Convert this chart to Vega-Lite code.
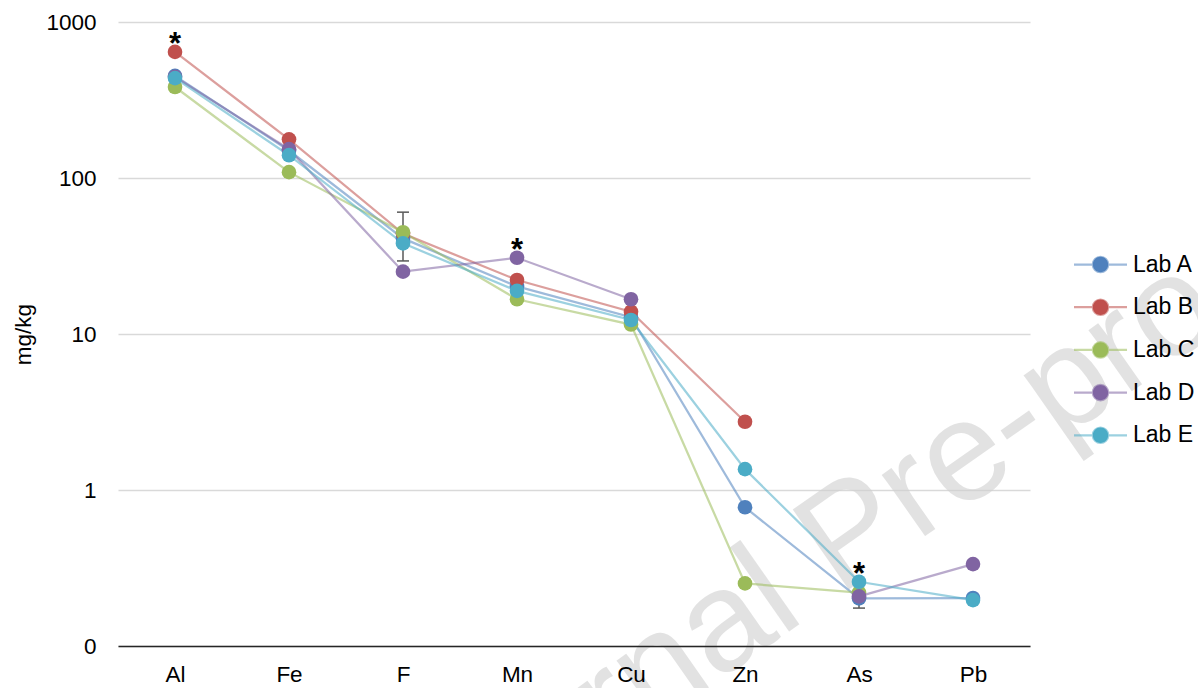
{
  "$schema": "https://vega.github.io/schema/vega-lite/v6.json",
  "width": 912,
  "height": 624,
  "autosize": {"type": "none"},
  "padding": {"left": 118, "top": 22, "right": 168, "bottom": 42},
  "background": "white",
  "config": {
    "font": "Liberation Sans",
    "view": {"stroke": null},
    "axis": {"labelColor": "#000000", "titleColor": "#000000", "labelFont": "Liberation Sans", "titleFont": "Liberation Sans"},
    "legend": {"labelFont": "Liberation Sans"}
  },
  "datasets": {
    "main": [
      {"el": "Al", "lab": "Lab A", "v": 451, "part": 1},
      {"el": "Fe", "lab": "Lab A", "v": 150, "part": 1},
      {"el": "F", "lab": "Lab A", "v": 41, "part": 1},
      {"el": "Mn", "lab": "Lab A", "v": 20.2, "part": 1},
      {"el": "Cu", "lab": "Lab A", "v": 12.8, "part": 1},
      {"el": "Zn", "lab": "Lab A", "v": 0.775, "part": 1},
      {"el": "As", "lab": "Lab A", "v": 0.202, "part": 1},
      {"el": "Pb", "lab": "Lab A", "v": 0.203, "part": 1},
      {"el": "Al", "lab": "Lab B", "v": 643, "part": 1, "note": "*"},
      {"el": "Fe", "lab": "Lab B", "v": 177, "part": 1},
      {"el": "F", "lab": "Lab B", "v": 44, "part": 1},
      {"el": "Mn", "lab": "Lab B", "v": 22.2, "part": 1},
      {"el": "Cu", "lab": "Lab B", "v": 13.9, "part": 1},
      {"el": "Zn", "lab": "Lab B", "v": 2.74, "part": 1},
      {"el": "Al", "lab": "Lab C", "v": 383, "part": 1},
      {"el": "Fe", "lab": "Lab C", "v": 109, "part": 1},
      {"el": "F", "lab": "Lab C", "v": 44.9, "part": 1},
      {"el": "Mn", "lab": "Lab C", "v": 16.7, "part": 1},
      {"el": "Cu", "lab": "Lab C", "v": 11.5, "part": 1},
      {"el": "Zn", "lab": "Lab C", "v": 0.252, "part": 1},
      {"el": "As", "lab": "Lab C", "v": 0.22, "part": 1},
      {"el": "Al", "lab": "Lab D", "v": 445, "part": 1},
      {"el": "Fe", "lab": "Lab D", "v": 153, "part": 1},
      {"el": "F", "lab": "Lab D", "v": 25.1, "part": 1},
      {"el": "Mn", "lab": "Lab D", "v": 30.8, "part": 1, "note": "*"},
      {"el": "Cu", "lab": "Lab D", "v": 16.7, "part": 1},
      {"el": "As", "lab": "Lab D", "v": 0.208, "part": 2},
      {"el": "Pb", "lab": "Lab D", "v": 0.335, "part": 2},
      {"el": "Al", "lab": "Lab E", "v": 437, "part": 1},
      {"el": "Fe", "lab": "Lab E", "v": 140, "part": 1},
      {"el": "F", "lab": "Lab E", "v": 38.1, "part": 1},
      {"el": "Mn", "lab": "Lab E", "v": 18.9, "part": 1},
      {"el": "Cu", "lab": "Lab E", "v": 12.3, "part": 1},
      {"el": "Zn", "lab": "Lab E", "v": 1.36, "part": 1},
      {"el": "As", "lab": "Lab E", "v": 0.258, "part": 1, "note": "*"},
      {"el": "Pb", "lab": "Lab E", "v": 0.197, "part": 1}
    ],
    "err": [
      {"el": "F", "lab": "Lab C", "lo": 29.4, "hi": 60.4},
      {"el": "As", "lab": "Lab C", "lo": 0.175, "hi": 0.265}
    ],
    "mark": [
      {"t": "Journal Pre-proof"}
    ]
  },
  "encoding": {
    "x": {
      "field": "el",
      "type": "nominal",
      "scale": {"type": "point", "padding": 0.5, "domain": ["Al", "Fe", "F", "Mn", "Cu", "Zn", "As", "Pb"]},
      "sort": null,
      "axis": {
        "title": null,
        "labelAngle": 0,
        "labelFontSize": 22.5,
        "labelPadding": 17,
        "ticks": false,
        "grid": false,
        "domain": true,
        "domainColor": "#262626",
        "domainWidth": 1.5,
        "zindex": 1
      }
    }
  },
  "layer": [
    {
      "data": {"name": "mark"},
      "mark": {"type": "text", "angle": 325, "fontSize": 142, "font": "Liberation Sans", "align": "center", "baseline": "middle", "dx": 85, "dy": 62, "color": "#d0d0d0", "opacity": 0.6},
      "encoding": {
        "x": {"datum": "Zn"},
        "y": {"datum": 0.522},
        "text": {"field": "t"}
      }
    },
    {
      "data": {"name": "main"},
      "mark": {"type": "line", "strokeWidth": 2.25, "strokeOpacity": 0.55},
      "encoding": {
        "y": {
          "field": "v",
          "type": "quantitative",
          "scale": {"type": "log", "domain": [0.1, 1000], "nice": false},
          "axis": {
            "title": "mg/kg",
            "titleFontSize": 22.5,
            "titleFontWeight": "normal",
            "titleX": -88,
            "titleY": 312,
            "titleBaseline": "alphabetic",
            "values": [0.1, 1, 10, 100, 1000],
            "labelExpr": "datum.value < 1 ? '0' : format(datum.value, 'd')",
            "labelFontSize": 22.5,
            "labelPadding": 22,
            "ticks": false,
            "domain": false,
            "grid": true,
            "gridColor": "#d9d9d9",
            "gridWidth": 1.3
          }
        },
        "color": {
          "field": "lab",
          "type": "nominal",
          "scale": {"domain": ["Lab A", "Lab B", "Lab C", "Lab D", "Lab E"], "range": ["#4F81BD", "#C0504D", "#9BBB59", "#8064A2", "#4BACC6"]},
          "legend": {
            "title": null,
            "orient": "none",
            "legendX": 966,
            "legendY": 226,
            "padding": 0,
            "symbolType": "M-1.767,0L-0.513,0M0.513,0L1.767,0M-0.513,0A0.513,0.513,0,1,1,0.513,0A0.513,0.513,0,1,1,-0.513,0Z",
            "symbolSize": 900,
            "symbolStrokeWidth": 2.25,
            "labelFontSize": 23,
            "labelColor": "#000000",
            "labelOffset": 16,
            "rowPadding": 13.7,
            "encode": {
              "symbols": {
                "update": {
                  "stroke": {"scale": "color", "field": "value"},
                  "fill": {"scale": "color", "field": "value"},
                  "strokeOpacity": {"value": 0.55},
                  "fillOpacity": {"value": 1},
                  "opacity": {"value": 1}
                }
              }
            }
          }
        },
        "detail": {"field": "part"}
      }
    },
    {
      "data": {"name": "err"},
      "mark": {"type": "rule", "color": "#595959", "strokeWidth": 1.5},
      "encoding": {
        "y": {"field": "lo", "type": "quantitative"},
        "y2": {"field": "hi"}
      }
    },
    {
      "data": {"name": "err"},
      "mark": {"type": "tick", "orient": "horizontal", "color": "#595959", "thickness": 1.5, "size": 12, "opacity": 1},
      "encoding": {
        "y": {"field": "lo", "type": "quantitative"}
      }
    },
    {
      "data": {"name": "err"},
      "mark": {"type": "tick", "orient": "horizontal", "color": "#595959", "thickness": 1.5, "size": 12, "opacity": 1},
      "encoding": {
        "y": {"field": "hi", "type": "quantitative"}
      }
    },
    {
      "data": {"name": "main"},
      "mark": {"type": "point", "filled": true, "shape": "circle", "size": 215, "opacity": 1, "strokeWidth": 0},
      "encoding": {
        "y": {"field": "v", "type": "quantitative"},
        "color": {"field": "lab", "type": "nominal"}
      }
    },
    {
      "data": {"name": "main"},
      "transform": [{"filter": "datum.note != null"}],
      "mark": {"type": "text", "fontSize": 31, "fontWeight": "bold", "baseline": "alphabetic", "align": "center", "dy": 2, "color": "#000000"},
      "encoding": {
        "y": {"field": "v", "type": "quantitative"},
        "text": {"field": "note"}
      }
    }
  ]
}
